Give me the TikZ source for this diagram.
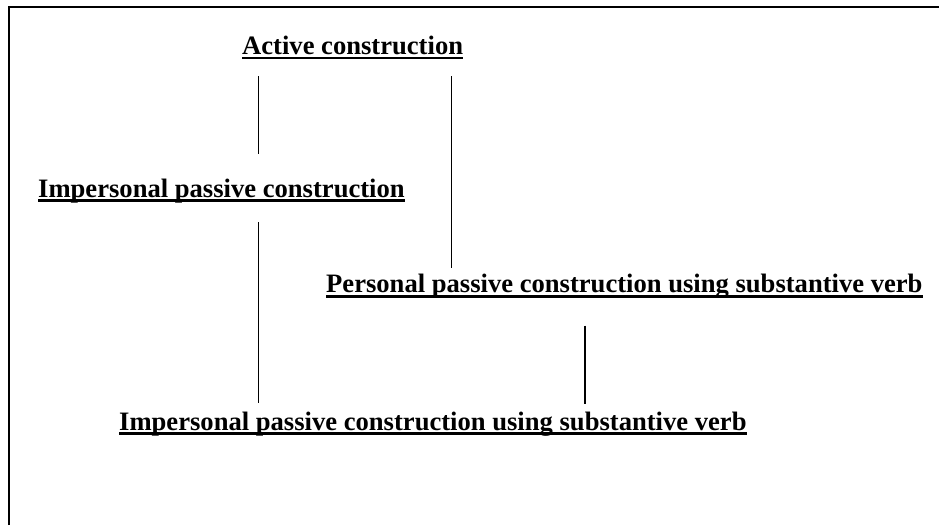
\documentclass[tikz,border=0pt]{standalone}
\usepackage{fontspec}
\setmainfont{Liberation Serif}
\usetikzlibrary{calc}
\newcommand\ulined[1]{\setbox0\hbox{#1}\rlap{\vrule width\wd0 height-2pt depth4.8pt}\box0}
\tikzset{
  lbl/.style={anchor=base west, inner sep=0pt, font=\fontsize{26.6}{32}\selectfont\bfseries},
  conn/.style={line width=1.5pt}
}

\begin{document}
\begin{tikzpicture}[x=1pt, y=-1pt]
			%%%%% START %%%%%
			\useasboundingbox (0,0) rectangle (939,525);
			
			\draw[line width=2pt] (8.7,525) -- (8.7,7.2) -- (939,7.2);
			
			\node[lbl] (active) at (242,54.5) {\ulined{Active construction}};
			\node[lbl] (imp) at (38,197) {\ulined{Impersonal passive construction}};
			\node[lbl] (pers) at (326,292.7) {\ulined{Personal passive construction using substantive verb}};
			\node[lbl] (impsub) at (119,430) {\ulined{Impersonal passive construction using substantive verb}};
			
			\coordinate (xl) at (258.5,0);
			\coordinate (xm) at (451.5,0);
			\coordinate (xr) at (585,0);
			
			\draw[conn] ([yshift=-21.5pt]active.base -| xl) -- ([yshift=43pt]imp.base -| xl);
			\draw[conn] ([yshift=-21.5pt]active.base -| xm) -- ([yshift=25pt]pers.base -| xm);
			\draw[conn] ([yshift=-25pt]imp.base -| xl) -- ([yshift=27pt]impsub.base -| xl);
			\draw[conn] ([yshift=-33pt]pers.base -| xr) -- ([yshift=26pt]impsub.base -| xr);
			
			%%%%% END %%%%%
\end{tikzpicture}
\end{document}
